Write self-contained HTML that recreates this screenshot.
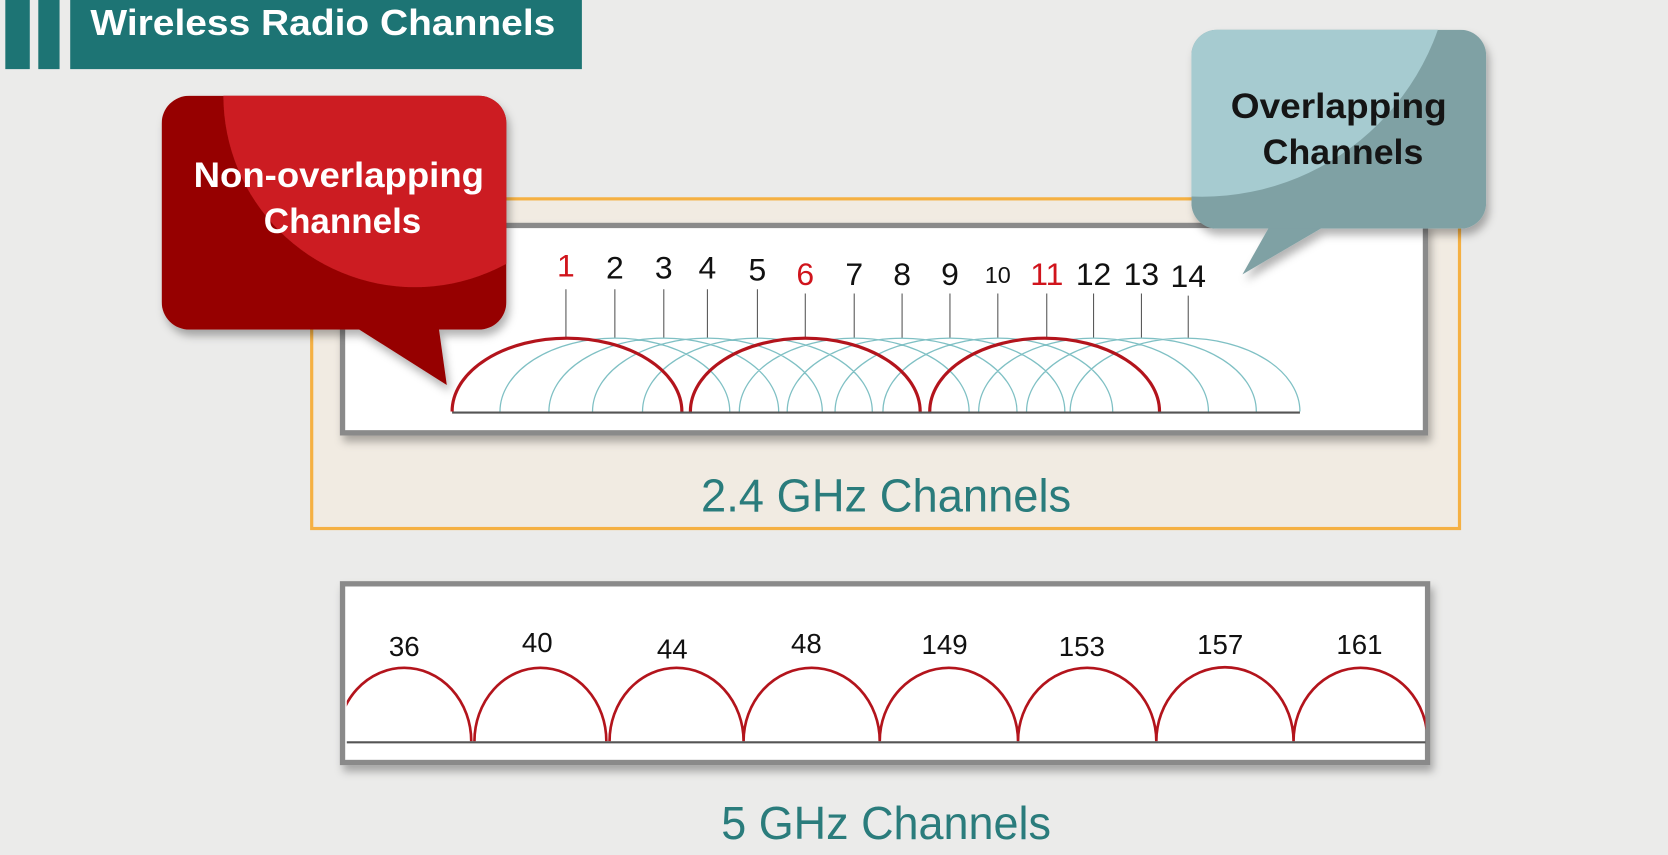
<!DOCTYPE html>
<html><head><style>html,body{margin:0;padding:0;background:#ebebea;overflow:hidden}svg{display:block}</style></head>
<body>
<svg width="1668" height="855" viewBox="0 0 1568 804" preserveAspectRatio="none" xmlns="http://www.w3.org/2000/svg" font-family="'Liberation Sans', sans-serif">
<defs>
<filter id="sh" x="-5%" y="-10%" width="110%" height="130%"><feDropShadow dx="3" dy="6" stdDeviation="4" flood-color="#000" flood-opacity="0.3"/></filter>
<clipPath id="rb"><rect x="152" y="90" width="324" height="220" rx="26"/></clipPath>
<clipPath id="tb"><rect x="1120" y="28" width="277" height="187" rx="24"/></clipPath>
<clipPath id="p5"><rect x="326" y="553" width="1014" height="160"/></clipPath>
</defs>
<rect width="1568" height="804" fill="#ebebea"/>
<!-- header -->
<rect x="5" y="0" width="23" height="65" fill="#1d7474"/>
<rect x="36" y="0" width="20" height="65" fill="#1d7474"/>
<rect x="66" y="0" width="481" height="65" fill="#1d7474"/>
<text x="85" y="33" font-size="34" font-weight="bold" fill="#fff" textLength="437" lengthAdjust="spacingAndGlyphs">Wireless Radio Channels</text>
<!-- orange box -->
<rect x="293" y="187" width="1079" height="310" fill="#f1ebe2" stroke="#f5b042" stroke-width="3"/>
<!-- 2.4 panel -->
<rect x="322" y="212" width="1018" height="195" fill="#fff" stroke="#8a8a8a" stroke-width="5" filter="url(#sh)"/>
<g font-size="30" fill="#111" text-anchor="middle">
<text x="532" y="260" fill="#d0141c">1</text><text x="578" y="262">2</text><text x="624" y="262">3</text><text x="665" y="262">4</text><text x="712" y="264">5</text><text x="757" y="268" fill="#d0141c">6</text><text x="803" y="268">7</text><text x="848" y="268">8</text><text x="893" y="268">9</text><text x="938" y="266" font-size="22">10</text><text x="984" y="268" fill="#d0141c">11</text><text x="1028" y="268">12</text><text x="1073" y="268">13</text><text x="1117" y="270">14</text>
</g>
<g stroke="#555" stroke-width="1">
<path d="M532 272V318M578 272V318M624 272V318M665 272V318M712 272V318M757 276V318M803 276V318M848 276V318M893 276V318M938 276V318M984 276V318M1028 276V318M1073 276V318M1117 278V318"/>
</g>
<g fill="none" stroke="#7fc0c4" stroke-width="1.2">
<path d="M470 387A108 69 0 0 1 686 387M516 387A108 69 0 0 1 732 387M557 387A108 69 0 0 1 773 387M604 387A108 69 0 0 1 820 387M695 387A108 69 0 0 1 911 387M740 387A108 69 0 0 1 956 387M785 387A108 69 0 0 1 1001 387M830 387A108 69 0 0 1 1046 387M920 387A108 69 0 0 1 1136 387M965 387A108 69 0 0 1 1181 387M1006 387A108 69 0 0 1 1222 387"/>
</g>
<g fill="none" stroke="#b3141c" stroke-width="3">
<path d="M425 387A108 69 0 0 1 641 387M649 387A108 69 0 0 1 865 387M874 387A108 69 0 0 1 1090 387"/>
</g>
<line x1="425" y1="388" x2="1222" y2="388" stroke="#555" stroke-width="2"/>
<text x="659" y="481" font-size="44" fill="#2a7c7c" textLength="348" lengthAdjust="spacingAndGlyphs">2.4 GHz Channels</text>
<!-- 5 GHz -->
<rect x="322" y="549" width="1020" height="168" fill="#fff" stroke="#8a8a8a" stroke-width="5" filter="url(#sh)"/>
<g font-size="26" fill="#111" text-anchor="middle">
<text x="380" y="617">36</text><text x="505" y="613">40</text><text x="632" y="619">44</text><text x="758" y="614">48</text><text x="888" y="615">149</text><text x="1017" y="617">153</text><text x="1147" y="615">157</text><text x="1278" y="615">161</text>
</g>
<g fill="none" stroke="#b3141c" stroke-width="2.5" clip-path="url(#p5)">
<path d="M317 697A63 69 0 0 1 443 697M446 697A62 69 0 0 1 570 697M573 697A63 69 0 0 1 699 697M699 697A64 69 0 0 1 827 697M827 697A65 69 0 0 1 957 697M957 697A65 69 0 0 1 1087 697M1087 697A64 69 0 0 1 1216 697M1216 697A63 69 0 0 1 1342 697"/>
</g>
<line x1="326" y1="698" x2="1340" y2="698" stroke="#555" stroke-width="2"/>
<text x="678" y="789" font-size="44" fill="#2a7c7c" textLength="310" lengthAdjust="spacingAndGlyphs">5 GHz Channels</text>
<!-- red bubble -->
<g filter="url(#sh)">
<path d="M330 305L420 362L412 305Z" fill="#960606"/>
<g clip-path="url(#rb)">
<rect x="152" y="90" width="324" height="220" fill="#960606"/>
<circle cx="390" cy="90" r="180" fill="#cc1f22"/>
</g>
</g>
<text x="182" y="176" font-size="33" font-weight="bold" fill="#fff" textLength="273" lengthAdjust="spacingAndGlyphs">Non-overlapping</text>
<text x="248" y="219" font-size="33" font-weight="bold" fill="#fff" textLength="148" lengthAdjust="spacingAndGlyphs">Channels</text>
<!-- teal bubble -->
<g filter="url(#sh)">
<path d="M1195 210L1168 258L1250 210Z" fill="#7fa1a4"/>
<g clip-path="url(#tb)">
<rect x="1120" y="28" width="277" height="187" fill="#7fa1a4"/>
<circle cx="1130" cy="-50" r="235" fill="#a6cbd0"/>
</g>
</g>
<text x="1157" y="111" font-size="33" font-weight="bold" fill="#151515" textLength="203" lengthAdjust="spacingAndGlyphs">Overlapping</text>
<text x="1187" y="154" font-size="33" font-weight="bold" fill="#151515" textLength="151" lengthAdjust="spacingAndGlyphs">Channels</text>
</svg>
</body></html>
